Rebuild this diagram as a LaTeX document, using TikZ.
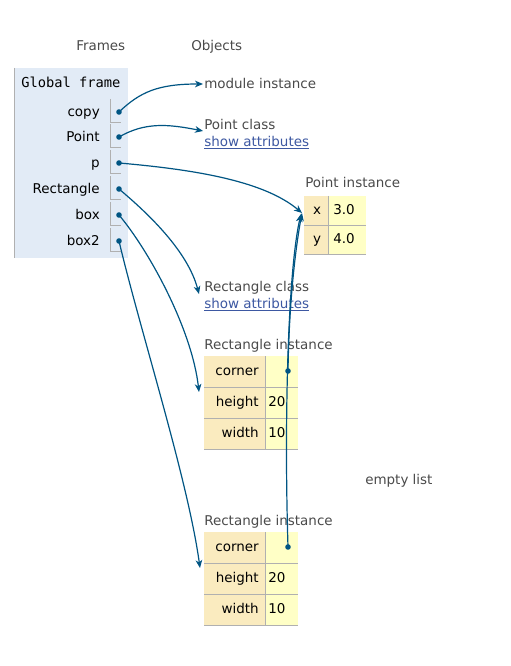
\documentclass[tikz,border=0pt]{standalone}
\usepackage{fontspec}
\setmainfont{DejaVu Sans}
\setmonofont{DejaVu Sans Mono}
\usetikzlibrary{arrows.meta}
\definecolor{arr}{HTML}{005583}
\definecolor{framebg}{HTML}{E2EBF6}
\definecolor{keybg}{HTML}{FAEBBF}
\definecolor{valbg}{HTML}{FFFFC6}
\definecolor{lbl}{HTML}{4A4A4A}
\definecolor{lnk}{HTML}{3D58A2}
\definecolor{brd}{HTML}{B0B0B0}
\begin{document}
\begin{tikzpicture}[x=0.75pt,y=-0.75pt,
  font=\fontsize{10.1}{12}\selectfont,
  ptr/.style={arr, line width=0.9pt, -{Stealth[length=6pt,width=5pt,inset=1.8pt]}},
  dotnode/.style={circle, fill=arr, inner sep=0pt, minimum size=4.2pt},
  txt/.style={inner sep=0pt, text=black},
  glabel/.style={inner sep=0pt, text=lbl},
  cellline/.style={brd, line width=0.7pt},
  pt/.style={inner sep=0pt, minimum size=0pt}]
\useasboundingbox[fill=white] (0,0) rectangle (510,666);

% headers
\node[glabel, anchor=base west] (hframes) at (76,50.5) {Frames};
\node[glabel, anchor=base west] (hobjects) at (191,50.5) {Objects};

% global frame
\fill[framebg] (14,68) rectangle (128,258);
\draw[brd, line width=0.7pt] (14,68) -- (14,258);
\node[txt, anchor=base west, font=\ttfamily\fontsize{10.3}{12}\selectfont] (gf) at (21,88) {Global frame};

\foreach \nm/\lab/\yy in {vcopy/copy/112, vpoint/Point/137, vp/p/163, vrect/Rectangle/189, vbox/box/215, vboxb/box2/241}{
  \node[txt, anchor=base east] (l\nm) at (100,\yy+4.5) {\lab};
  \draw[cellline] (110,\yy-13) -- (110,\yy+10) -- (121,\yy+10);
  \node[dotnode] (\nm) at (119,\yy) {};
}

% objects
\node[glabel, anchor=base west] (modinst) at (204,88.5) {module instance};
\node[glabel, anchor=base west] (ptclass) at (204,129.5) {Point class};
\node[inner sep=0pt, anchor=base west, text=lnk] (ptattr) at (204,146.5) {\underline{show attributes}};

% Point instance
\node[glabel, anchor=base west] (ptinst) at (305,187.5) {Point instance};
\fill[keybg] (304,196) rectangle (328,254);
\fill[valbg] (328,196) rectangle (366,254);
\draw[cellline] (304,225) -- (366,225) (304,254) -- (366,254) (328,196) -- (328,254);
\node[txt, anchor=base] (kx) at (317,214.5) {x};
\node[txt, anchor=base west] (vx) at (333,214.5) {3.0};
\node[txt, anchor=base] (ky) at (317,243.5) {y};
\node[txt, anchor=base west] (vy) at (333,243.5) {4.0};

% Rectangle class
\node[glabel, anchor=base west] (rcclass) at (204,291.5) {Rectangle class};
\node[inner sep=0pt, anchor=base west, text=lnk] (rcattr) at (204,308.5) {\underline{show attributes}};

% Rectangle instance 1
\node[glabel, anchor=base west] (rinsta) at (204,349.5) {Rectangle instance};
\fill[keybg] (204,356) rectangle (265,449);
\fill[valbg] (265,356) rectangle (298,449);
\draw[cellline] (204,387) -- (298,387) (204,418) -- (298,418) (204,449) -- (298,449) (265,356) -- (265,449);
\node[txt, anchor=base east] (ka1) at (259,375.5) {corner};
\node[txt, anchor=base east] (ka2) at (259,406.5) {height};
\node[txt, anchor=base east] (ka3) at (259,437.5) {width};
\node[txt, anchor=base west] (va2) at (268,406.5) {20};
\node[txt, anchor=base west] (va3) at (268,437.5) {10};
\node[dotnode] (ca) at (288,371) {};

% empty list
\node[glabel, anchor=base west] (empty) at (365,484.5) {empty list};

% Rectangle instance 2
\node[glabel, anchor=base west] (rinstb) at (204,525.5) {Rectangle instance};
\fill[keybg] (204,532) rectangle (265,625);
\fill[valbg] (265,532) rectangle (298,625);
\draw[cellline] (204,563) -- (298,563) (204,594) -- (298,594) (204,625) -- (298,625) (265,532) -- (265,625);
\node[txt, anchor=base east] (kb1) at (259,551.5) {corner};
\node[txt, anchor=base east] (kb2) at (259,582.5) {height};
\node[txt, anchor=base east] (kb3) at (259,613.5) {width};
\node[txt, anchor=base west] (vb2) at (268,582.5) {20};
\node[txt, anchor=base west] (vb3) at (268,613.5) {10};
\node[dotnode] (cb) at (288,547) {};

% arrow targets
\coordinate (tmod) at (203,84);
\coordinate (tptc) at (203,131);
\coordinate (tpt) at (302,213);
\coordinate (tptb) at (301,214);
\coordinate (trc) at (199,294);
\coordinate (tra) at (199,392);
\coordinate (trb) at (200,568);

% pointers
\draw[ptr] (vcopy.center) .. controls (140,92) and (158,84) .. (tmod);
\draw[ptr] (vpoint.center) .. controls (145,122) and (168,124) .. (tptc);
\draw[ptr] (vp.center) .. controls (200,170) and (265,182) .. (tpt);
\draw[ptr] (vrect.center) .. controls (150,215) and (188,252) .. (trc);
\draw[ptr] (vbox.center) .. controls (150,252) and (192,330) .. (tra);
\draw[ptr] (vboxb.center) .. controls (140,330) and (188,480) .. (trb);
\draw[ptr] (ca.center) .. controls (289,300) and (296,245) .. (tpt);
\draw[ptr] (cb.center) .. controls (284,420) and (288,270) .. (tptb);
\end{tikzpicture}
\end{document}
